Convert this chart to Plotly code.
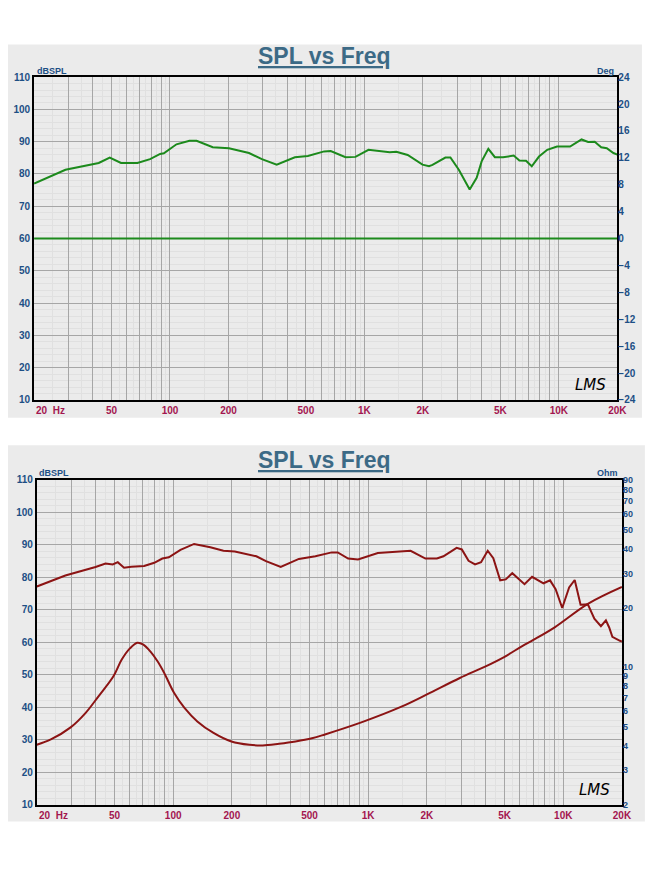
import numpy as np
import plotly.graph_objects as go

# --- data ---
freq_top = [20, 29, 43, 49, 56, 68, 79, 89, 93, 108, 126, 137, 166, 201, 255, 297, 354, 439,
            512, 621, 671, 800, 900, 1050, 1350, 1460, 1670, 1990, 2150, 2240, 2610, 2770,
            3060, 3480, 3780, 4010, 4340, 4690, 5170, 5860, 6270, 6780, 7260, 7910, 8720,
            9790, 11430, 13090, 14150, 15300, 16530, 17650, 19100, 20000]
spl_top = [77.0, 81.3, 83.4, 85.1, 83.4, 83.4, 84.6, 86.2, 86.4, 89.2, 90.3, 90.3, 88.3, 88.0,
           86.5, 84.6, 82.9, 85.2, 85.6, 87.0, 87.1, 85.2, 85.3, 87.5, 86.7, 86.9, 85.9, 82.9,
           82.4, 82.8, 85.1, 85.1, 81.3, 75.2, 78.8, 83.9, 87.8, 85.2, 85.2, 85.7, 84.2, 84.1,
           82.4, 85.4, 87.5, 88.5, 88.5, 90.7, 89.9, 90.0, 88.3, 88.0, 86.5, 86.0]

phase_freq = [20, 20000]
phase_deg = [0, 0]

freq_bot = [20, 28, 40, 45, 49, 52, 56, 61, 71, 80, 88, 95, 109, 128, 155, 181, 207, 237, 267,
            299, 356, 441, 536, 650, 698, 789, 887, 1120, 1310, 1470, 1650, 1965, 2250, 2430,
            2840, 3020, 3270, 3530, 3790, 4100, 4380, 4750, 5070, 5480, 6330, 6920, 7920,
            8560, 9140, 9880, 10720, 11450, 12270, 13370, 14440, 15600, 16550, 17200, 17860,
            19540, 20000]
spl_bot = [77.1, 80.5, 83.1, 84.2, 83.9, 84.6, 82.9, 83.2, 83.4, 84.4, 85.7, 86.1, 88.4, 90.2,
           89.2, 88.1, 87.9, 87.1, 86.4, 84.9, 83.1, 85.6, 86.4, 87.6, 87.6, 85.7, 85.4, 87.4,
           87.7, 88.1, 88.1, 85.7, 85.7, 86.4, 89.0, 88.5, 85.0, 83.9, 84.6, 88.1, 85.8, 79.0,
           79.3, 81.2, 77.8, 80.1, 78.1, 79.0, 76.3, 70.5, 76.8, 79.1, 71.5, 71.6, 67.2, 64.9,
           66.7, 64.5, 61.6, 60.4, 60.2]

freq_imp = [20, 23.6, 29.8, 35.5, 41.5, 49.4, 54.4, 60, 65.5, 70, 76.5, 83.3, 90, 101, 114, 133,
            161, 199, 246, 288, 349, 424, 515, 600, 922, 1470, 2000, 2950, 4000, 5000, 6160,
            7060, 9080, 13370, 20000]
ohm_imp = [4.03, 4.29, 4.94, 5.84, 7.13, 8.99, 10.9, 12.46, 13.31, 13.05, 12.0, 10.69, 9.34,
           7.41, 6.23, 5.30, 4.63, 4.19, 4.03, 4.00, 4.08, 4.19, 4.35, 4.55, 5.24, 6.28, 7.27,
           8.81, 10.1, 11.3, 12.8, 13.8, 16.0, 21.0, 25.6]

x_ticks = [50, 100, 200, 500, 1000, 2000, 5000, 10000, 20000]
x_labels = ["50", "100", "200", "500", "1K", "2K", "5K", "10K", "20K"]
spl_ticks = list(range(10, 111, 10))
deg_ticks = list(range(-24, 25, 4))
ohm_ticks = [2, 3, 4, 5, 6, 7, 8, 9, 10, 20, 30, 40, 50, 60, 70, 80, 90]

# page is 658x869; the html body keeps its default 8px margin, so keep the
# figure a little smaller than the window to avoid scrollbars
OFF = 8
W, H = 640, 850
BLUE = "#1d4f85"
RED_TXT = "#a3154f"
GREEN = "#1c8a1c"
DRED = "#8c1414"
PANEL = "#ebebeb"

grid_major = [m * 10 ** d for d in range(1, 5) for m in range(1, 10) if 20 <= m * 10 ** d <= 20000]
grid_minor = [(m + 0.5) * 10 ** d for d in range(1, 4) for m in range(1, 10) if 20 < (m + 0.5) * 10 ** d < 20000]


def px(p, total):
    return (p - OFF) / total


def px_dom(a, b, total, flip=False):
    if flip:
        return [1 - px(b, total), 1 - px(a, total)]
    return [px(a, total), px(b, total)]


def xaxis_cfg(dom):
    return dict(
        type="log", domain=dom, range=[np.log10(20), np.log10(20000)],
        tickvals=grid_major,
        ticktext=[x_labels[x_ticks.index(v)] if v in x_ticks else "" for v in grid_major],
        tickfont=dict(family="Liberation Sans", size=10, color=RED_TXT, weight="bold"),
        showgrid=True, gridcolor="#a6a6a6", gridwidth=1,
        minor=dict(tickvals=grid_minor, showgrid=True, gridcolor="#e0e0e0", ticks=""),
        showline=True, linecolor="black", linewidth=2, mirror=True,
        ticks="", zeroline=False,
    )


def yaxis_cfg(dom, anchor):
    return dict(
        domain=dom, range=[10, 110], tickvals=spl_ticks, anchor=anchor,
        tickfont=dict(family="Liberation Sans", size=10, color=BLUE, weight="bold"),
        showgrid=True, gridcolor="#a6a6a6", gridwidth=1,
        minor=dict(dtick=2, showgrid=True, gridcolor="#e0e0e0", ticks=""),
        showline=True, linecolor="black", linewidth=2, mirror=True,
        ticks="", zeroline=False,
    )


fig = go.Figure()

# top: SPL + phase
fig.add_trace(go.Scatter(x=freq_top, y=spl_top, mode="lines", xaxis="x", yaxis="y",
                         line=dict(color=GREEN, width=2), showlegend=False))
fig.add_trace(go.Scatter(x=phase_freq, y=phase_deg, mode="lines", xaxis="x", yaxis="y2",
                         line=dict(color=GREEN, width=2), showlegend=False))

# bottom: SPL + impedance
fig.add_trace(go.Scatter(x=freq_bot, y=spl_bot, mode="lines", xaxis="x2", yaxis="y3",
                         line=dict(color=DRED, width=2), showlegend=False))
fig.add_trace(go.Scatter(x=freq_imp, y=ohm_imp, mode="lines", xaxis="x2", yaxis="y4",
                         line=dict(color=DRED, width=2, shape="spline"), showlegend=False))

top_x = px_dom(34.5, 627, W)
top_y = px_dom(73, 400, H, flip=True)
bot_x = px_dom(37.3, 631.7, W)
bot_y = px_dom(480.7, 810, H, flip=True)

right_font = dict(family="Liberation Sans", size=10, color=BLUE, weight="bold")
ohm_font = dict(family="Liberation Sans", size=9, color=BLUE, weight="bold")

fig.update_layout(
    width=W, height=H,
    margin=dict(l=0, r=0, t=0, b=0),
    paper_bgcolor="white", plot_bgcolor="white",
    xaxis=xaxis_cfg(top_x) | dict(anchor="y"),
    yaxis=yaxis_cfg(top_y, "x"),
    yaxis2=dict(overlaying="y", side="right", anchor="x", range=[-24, 24], tickvals=deg_ticks,
                tickfont=right_font, showgrid=False, zeroline=False, ticks=""),
    xaxis2=xaxis_cfg(bot_x) | dict(anchor="y3"),
    yaxis3=yaxis_cfg(bot_y, "x2"),
    yaxis4=dict(overlaying="y3", side="right", anchor="x2", type="log",
                range=[np.log10(2), np.log10(90)], tickvals=ohm_ticks,
                tickfont=ohm_font, showgrid=False, zeroline=False, ticks=""),
    shapes=[
        dict(type="rect", xref="paper", yref="paper", x0=px(0, W), x1=px(652, W),
             y0=1 - px(418, H), y1=1 - px(40, H), fillcolor=PANEL, line_width=0, layer="below"),
        dict(type="rect", xref="paper", yref="paper", x0=px(0, W), x1=px(655, W),
             y0=1 - px(827, H), y1=1 - px(446, H), fillcolor=PANEL, line_width=0, layer="below"),
    ],
)

annots = []
for ytop in (52, 461):
    annots.append(dict(text="<b><u>SPL vs Freq</u></b>", x=px(330, W), y=1 - px(ytop, H),
                       xref="paper", yref="paper", showarrow=False, yanchor="middle",
                       font=dict(family="Liberation Sans", size=23, color="#3c6a86")))
unit_font = dict(family="Liberation Sans", size=9, color=BLUE, weight="bold")
annots += [
    dict(text="dBSPL", x=px(35, W), y=1 - px(67, H), xanchor="left", font=unit_font),
    dict(text="Deg", x=px(626, W), y=1 - px(67, H), xanchor="right", font=unit_font),
    dict(text="dBSPL", x=px(37, W), y=1 - px(474, H), xanchor="left", font=unit_font),
    dict(text="Ohm", x=px(630, W), y=1 - px(474, H), xanchor="right", font=unit_font),
    dict(text="<i>LMS</i>", x=px(600, W), y=1 - px(385, H), xanchor="center",
         font=dict(family="DejaVu Sans", size=15, color="black")),
    dict(text="<i>LMS</i>", x=px(604, W), y=1 - px(795, H), xanchor="center",
         font=dict(family="DejaVu Sans", size=15, color="black")),
]
for a in annots[2:]:
    a.update(xref="paper", yref="paper", showarrow=False, yanchor="middle")

# "20 Hz" label sits left-aligned at the axis start
hz_font = dict(family="Liberation Sans", size=10, color=RED_TXT, weight="bold")
annots.append(dict(text="20  Hz", x=np.log10(20), y=10, xref="x", yref="y", xanchor="left",
                   yanchor="top", yshift=-3, showarrow=False, font=hz_font))
annots.append(dict(text="20  Hz", x=np.log10(20), y=10, xref="x2", yref="y3", xanchor="left",
                   yanchor="top", yshift=-3, showarrow=False, font=hz_font))
fig.update_layout(annotations=annots)

fig.write_html("out.html")
